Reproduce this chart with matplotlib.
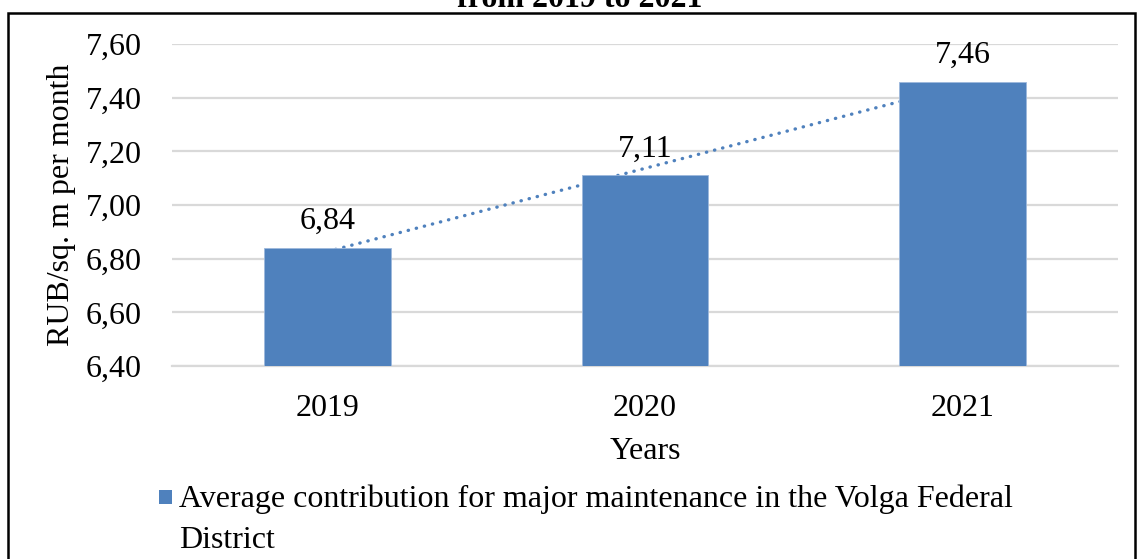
import matplotlib
matplotlib.use("Agg")
import matplotlib.pyplot as plt
import numpy as np
from matplotlib.patches import Rectangle
from matplotlib.legend_handler import HandlerPatch

years = ["2019", "2020", "2021"]
values = [6.84, 7.11, 7.46]
value_labels = ["6,84", "7,11", "7,46"]
yticks = [6.40, 6.60, 6.80, 7.00, 7.20, 7.40, 7.60]
ytick_labels = ["6,40", "6,60", "6,80", "7,00", "7,20", "7,40", "7,60"]
legend_label = "Average contribution for major maintenance in the Volga Federal\nDistrict"
title_text = "from 2019 to 2021"

plt.rcParams['font.family'] = ['Liberation Serif', 'DejaVu Serif']
BLUE = "#4F81BD"
FS = 23

fig = plt.figure(figsize=(11.39, 5.59), dpi=100)
ax = fig.add_axes([172/1139, 1-366/559, (1118-172)/1139, (366-44)/559])

x = np.arange(len(years))
# linear trendline (behind bars)
coef = np.polyfit(x, values, 1)
tx = np.array([0, 2])
ax.plot(tx, np.polyval(coef, tx), linestyle=(0, (0.1, 2.4)), color=BLUE, lw=2.4, zorder=2,
        dash_capstyle='round')
ax.bar(x, values, width=0.40, bottom=0, color=BLUE, edgecolor="#9DB8DC", linewidth=0.6, zorder=3)

for xi, v, lab in zip(x, values, value_labels):
    ax.text(xi, v + 0.045, lab, ha='center', va='bottom', fontsize=FS, zorder=5)

ax.set_ylim(6.40, 7.60)
ax.set_xlim(-0.49, 2.49)
ax.set_yticks(yticks)
ax.set_yticklabels(ytick_labels, fontsize=FS)
ax.set_xticks(x)
ax.set_xticklabels(years, fontsize=FS)
ax.tick_params(axis='x', length=0, pad=20)
ax.tick_params(axis='y', length=0, pad=22)
ax.grid(axis='y', color='#D9D9D9', lw=1.6, zorder=0)
ax.set_axisbelow(True)
for s in ['top', 'right', 'left']:
    ax.spines[s].set_visible(False)
ax.spines['bottom'].set_color('#D9D9D9')
ax.spines['bottom'].set_linewidth(1.6)

ax.set_xlabel("Years", fontsize=FS, labelpad=10)
ax.set_ylabel("RUB/sq. m per month", fontsize=FS, labelpad=7)


class TopSquareHandler(HandlerPatch):
    def create_artists(self, legend, orig_handle, xdescent, ydescent, width, height,
                       fontsize, trans):
        size = 0.43 * fontsize
        p = Rectangle((-xdescent + width - size, -ydescent + height - size),
                      size, size, facecolor=orig_handle.get_facecolor(), edgecolor='none',
                      transform=trans)
        return [p]


handle = Rectangle((0, 0), 1, 1, facecolor=BLUE)
leg = fig.legend([handle], [legend_label], loc='upper left', bbox_to_anchor=(158/1139, 1-484/559),
                 frameon=False, fontsize=FS, handlelength=0.45, handleheight=2.6, handletextpad=0.2,
                 borderpad=0, borderaxespad=0, handler_map={Rectangle: TopSquareHandler()})
for t in leg.get_texts():
    t.set_linespacing(1.58)

# outer border
fig.add_artist(Rectangle((8/1139, -0.05), (1135-8)/1139, 1.05 - 13/559, transform=fig.transFigure,
                         fill=False, edgecolor='black', lw=1.8))
fig.text(580/1139, 1-7/559, title_text, ha='center', va='baseline', fontsize=FS, fontweight='bold')

fig.savefig("out.png", dpi=100)
